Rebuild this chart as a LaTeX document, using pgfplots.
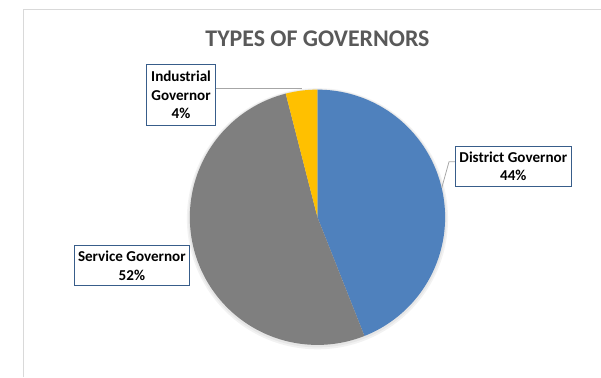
\documentclass[border=0pt]{standalone}
\usepackage{fontspec}
\setmainfont{Carlito}
\usepackage{pgfplots}
\usepackage{pgfplotstable}
\pgfplotsset{compat=1.18}
\definecolor{cBlue}{RGB}{79,129,189}
\definecolor{cGrey}{RGB}{127,127,127}
\definecolor{cGold}{RGB}{255,192,0}
\definecolor{cTitle}{RGB}{89,89,89}
\definecolor{cBox}{RGB}{56,93,138}
\definecolor{cLead}{RGB}{166,166,166}
\definecolor{cFrame}{RGB}{217,217,217}
\begin{document}
\pgfplotstableread{
name value
District 44
Service 52
Industrial 4
}\piedata
\pgfplotstablegetelem{0}{value}\of\piedata \edef\vA{\pgfplotsretval}
\pgfplotstablegetelem{1}{value}\of\piedata \edef\vB{\pgfplotsretval}
\pgfplotstablegetelem{2}{value}\of\piedata \edef\vC{\pgfplotsretval}
\pgfmathsetmacro\aS{90}
\pgfmathsetmacro\aA{\aS-3.6*\vA}
\pgfmathsetmacro\aB{\aA-3.6*\vB}
\pgfmathsetmacro\aC{\aB-3.6*\vC}
\begin{tikzpicture}[x=1pt,y=1pt]
\useasboundingbox (0,0) rectangle (601,-387);
\draw[cFrame, line width=1pt] (8,-387) -- (8,-10) -- (601,-10);
\node[cTitle, anchor=base, font=\bfseries\fontsize{24.5}{29}\selectfont] at (310,-47.5) {TYPES OF GOVERNORS};
% soft shadow
\fill[black, opacity=0.05] (310,-224.5) circle (134);
\fill[black, opacity=0.05] (310,-224) circle (132.5);
\begin{axis}[at={(310pt,-223pt)}, anchor=center, hide axis,
  width=262pt, height=262pt, scale only axis,
  xmin=-1, xmax=1, ymin=-1, ymax=1, clip=false]
\addplot[data cs=polar, draw=none, fill=cBlue, domain=\aA:\aS, samples=120] {1} -- (axis cs:0,0) -- cycle;
\addplot[data cs=polar, draw=none, fill=cGrey, domain=\aB:\aA, samples=140] {1} -- (axis cs:0,0) -- cycle;
\addplot[data cs=polar, draw=none, fill=cGold, domain=\aC:\aB, samples=20] {1} -- (axis cs:0,0) -- cycle;
\end{axis}
% leader lines
\draw[cLead, line width=0.8pt] (205,-91) -- (294,-91);
\draw[cLead, line width=0.8pt] (452,-166) -- (445,-166) -- (437.5,-193);
% labels
\tikzset{lbl/.style={draw=cBox, line width=0.9pt, fill=white, align=center, inner sep=2pt,
  font=\bfseries\fontsize{15.5}{19}\selectfont}}
\node[lbl, minimum width=71, minimum height=62] at (170,-97.5) {Industrial\\Governor\\4\%};
\node[lbl, minimum width=119, minimum height=41] at (511,-170.5) {District Governor\\44\%};
\node[lbl, minimum width=118, minimum height=41] at (119.5,-272.5) {Service Governor\\52\%};
\end{tikzpicture}
\end{document}
